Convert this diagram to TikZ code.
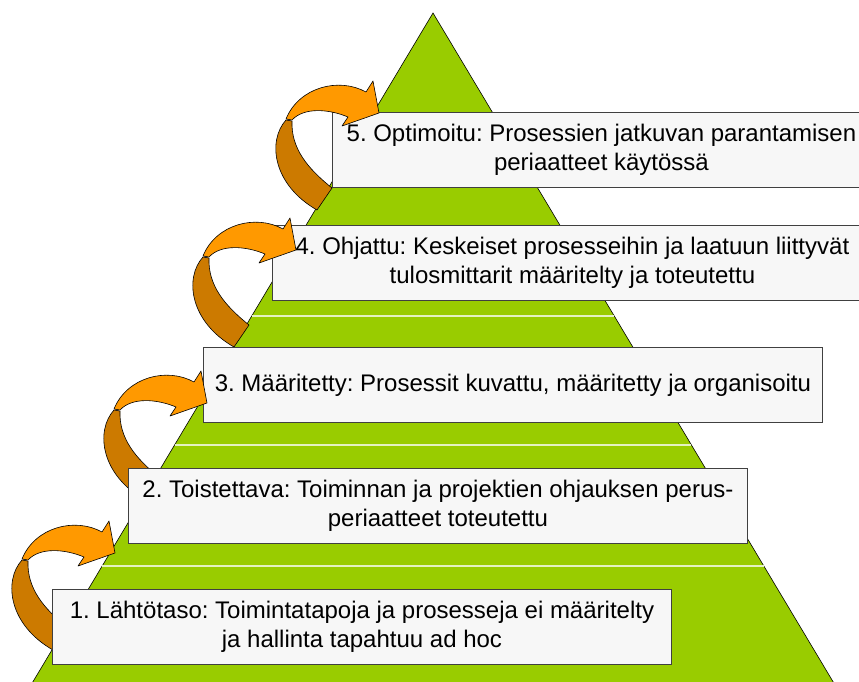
\documentclass[tikz,border=0pt]{standalone}
\usepackage{fontspec}
\setmainfont{Liberation Sans}
\frenchspacing
\definecolor{levelgreen}{HTML}{99CC00}
\definecolor{stripe}{HTML}{E4F2C2}
\definecolor{boxfill}{HTML}{F7F7F7}
\definecolor{arrowfront}{HTML}{FF9900}
\definecolor{arrowback}{HTML}{CC7A00}
\tikzset{
  levelbox/.style={draw=black!75, line width=0.9pt, fill=boxfill, inner sep=0pt,
    minimum height=75pt, align=center, anchor=north west,
    font=\fontsize{24}{28.5}\selectfont},
  stripeline/.style={draw=stripe, line width=1.6pt},
  cyclearrow/.pic={
    % back side of the curved band
    \filldraw[fill=arrowback, draw=black, line width=0.6pt, line join=round]
      (-93,7) .. controls (-112,28) and (-106,72) .. (-62,97)
      -- (-47,75) .. controls (-72,55) and (-88,35) .. (-87,8) -- cycle;
    % front side with the arrow head
    \filldraw[fill=arrowfront, draw=black, line width=0.6pt, line join=round]
      (-93,6) .. controls (-80,-26) and (-40,-36) .. (-13,-21)
      -- (-6,-32) -- (0,0) -- (-37,13) -- (-31,4)
      .. controls (-50,-4) and (-75,-6) .. (-87,7) -- cycle;
  }
}
\begin{document}
\begin{tikzpicture}[x=1pt,y=-1pt]
\useasboundingbox (0,0) rectangle (859,682);
\clip (0,0) rectangle (859,682);
\fill[white] (0,0) rectangle (859,682);

% pyramid
\coordinate (apex) at (433,13);
\coordinate (bl) at (28,690);
\coordinate (br) at (838,690);
\filldraw[fill=levelgreen, draw=black, line width=0.6pt] (apex) -- (br) -- (bl) -- cycle;

% level separators
\foreach \yy in {316,445,566} {
  \pgfmathsetmacro{\hw}{0.598*(\yy-13)}
  \draw[stripeline] ({433-\hw},\yy) -- ({433+\hw},\yy);
}

\node[levelbox, minimum width=538pt] (l5) at (332,112)
  {5. Optimoitu: Prosessien jatkuvan parantamisen\\periaatteet käytössä};
\pic at (379,113) {cyclearrow};

\node[levelbox, minimum width=600pt] (l4) at (272,225)
  {4. Ohjattu: Keskeiset prosesseihin ja laatuun liittyvät\\tulosmittarit määritelty ja toteutettu};
\pic at (296,250) {cyclearrow};

\node[levelbox, minimum width=619pt] (l3) at (203,347)
  {3. Määritetty: Prosessit kuvattu, määritetty ja organisoitu};
\pic at (207,403) {cyclearrow};

\node[levelbox, minimum width=619pt] (l2) at (128,468)
  {2. Toistettava: Toiminnan ja projektien ohjauksen perus-\\periaatteet toteutettu};
\pic at (115,553) {cyclearrow};

\node[levelbox, minimum width=619pt] (l1) at (52,589)
  {1. Lähtötaso: Toimintatapoja ja prosesseja ei määritelty\\ja hallinta tapahtuu ad hoc};
\end{tikzpicture}
\end{document}
